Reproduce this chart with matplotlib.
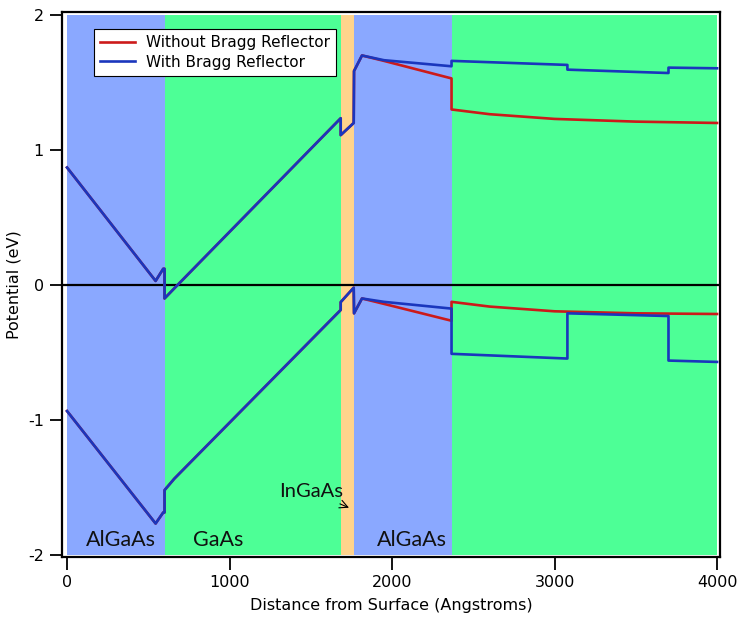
import matplotlib
matplotlib.use('Agg')
import matplotlib.pyplot as plt

# layer boundaries (Angstroms) and layer names
layer_edges = [0, 600, 1684, 1766, 2366, 4000]
layer_names = ['AlGaAs', 'GaAs', 'InGaAs', 'AlGaAs', 'GaAs']
layer_colors = {'AlGaAs': '#8aa8ff', 'GaAs': '#4dff96', 'InGaAs': '#ffd48c'}

# band edges common to both structures (surface through the upper AlGaAs)
front_x = [0, 545, 592, 600, 600, 660, 1684, 1684, 1764, 1766, 1815]
front_cb = [0.87, 0.03, 0.12, 0.12, -0.10, -0.025, 1.235, 1.11, 1.20, 1.585, 1.70]
front_vb = [-0.934, -1.767, -1.685, -1.685, -1.52, -1.435, -0.185, -0.127, -0.02, -0.21, -0.10]

# without Bragg reflector
plain_x = [1950, 2366, 2366, 2600, 3000, 3500, 4000]
plain_cb = [1.66, 1.53, 1.30, 1.265, 1.23, 1.21, 1.20]
plain_vb = [-0.14, -0.265, -0.125, -0.16, -0.195, -0.21, -0.215]

# with Bragg reflector
bragg_x = [1950, 2366, 2366, 3079, 3079, 3701, 3701, 4000]
bragg_cb = [1.665, 1.62, 1.66, 1.63, 1.595, 1.57, 1.61, 1.605]
bragg_vb = [-0.125, -0.175, -0.51, -0.545, -0.21, -0.23, -0.56, -0.57]

plt.rcParams['font.family'] = ['DejaVu Sans']
plt.rcParams['axes.unicode_minus'] = False

fig = plt.figure(figsize=(7.41, 6.22), dpi=100)
ax = fig.add_axes([62 / 741, 65 / 622, 658 / 741, 545 / 622])

for lo, hi, name in zip(layer_edges[:-1], layer_edges[1:], layer_names):
    ax.fill_between([lo, hi], -2, 2, color=layer_colors[name], lw=0, zorder=0)

ax.axhline(0, color='black', lw=1.6, zorder=2)

red = '#cc1a1a'
blue = '#1a36bd'
ax.plot(front_x + plain_x, front_cb + plain_cb, color=red, lw=1.9, zorder=3,
        label='Without Bragg Reflector')
ax.plot(front_x + plain_x, front_vb + plain_vb, color=red, lw=1.9, zorder=3)
ax.plot(front_x + bragg_x, front_cb + bragg_cb, color=blue, lw=1.9, zorder=4,
        label='With Bragg Reflector')
ax.plot(front_x + bragg_x, front_vb + bragg_vb, color=blue, lw=1.9, zorder=4)

# layer labels along the bottom
label_font = dict(family='Lato', fontsize=15.5, color='#111111', ha='center', va='center')
ax.text(330, -1.89, 'AlGaAs', **label_font)
ax.text(930, -1.89, 'GaAs', **label_font)
ax.text(2120, -1.89, 'AlGaAs', **label_font)
ax.annotate('InGaAs', xy=(1735, -1.65), xytext=(1500, -1.53),
            arrowprops=dict(arrowstyle='->', color='black', lw=0.8,
                            shrinkA=2, shrinkB=0),
            family='Lato', fontsize=14.5, color='#111111', ha='center', va='center')

ax.set_xlim(-31, 4018)
ax.set_ylim(-2.015, 2.022)
ax.set_xticks([0, 1000, 2000, 3000, 4000])
ax.set_yticks([-2, -1, 0, 1, 2])
ax.tick_params(direction='out', length=9, width=1.3, labelsize=11.5,
               top=False, right=False, pad=4)
for s in ax.spines.values():
    s.set_linewidth(1.6)

ax.set_xlabel('Distance from Surface (Angstroms)', fontsize=11.5, labelpad=6)
ax.set_ylabel('Potential (eV)', fontsize=11.5)
ax.yaxis.set_label_coords(-0.061, 0.5)

leg = ax.legend(loc='upper left', bbox_to_anchor=(0.037, 0.983), fontsize=11,
                frameon=True, fancybox=False, framealpha=1, edgecolor='black',
                handlelength=2.3, borderpad=0.4, labelspacing=0.3,
                handletextpad=0.7)
leg.get_frame().set_linewidth(0.8)

fig.savefig('out.png', dpi=100, facecolor='white')
